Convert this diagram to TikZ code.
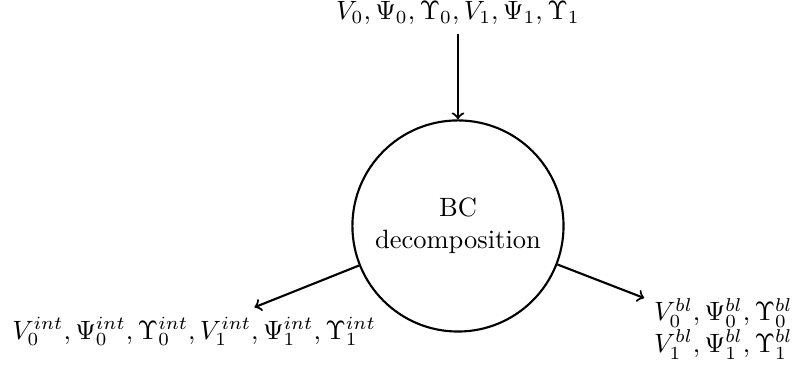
\documentclass[tikz,border=0pt]{standalone}
\usepackage{amssymb}
\usepackage{amsmath}
\usepackage{tikz}
\usetikzlibrary{positioning}

\begin{document}
\begin{tikzpicture}[thick, proc/.style={draw, circle, minimum size=2.8cm, align=center}]
        \useasboundingbox (-6.074,-1.897) rectangle (4.430,2.997);
        \node[proc] (bc) at (0,0) {BC\\decomposition};
        \node[above=1.13cm of bc] (in) {$V_0, \Psi_0, \Upsilon_0, V_1, \Psi_1, \Upsilon_1$};
        \node[anchor=base] (int) at (-3.50,-1.50) {$V_0^{int}, \Psi_0^{int}, \Upsilon_0^{int}, V_1^{int}, \Psi_1^{int}, \Upsilon_1^{int}$};
        \node[anchor=south west, align=left] (bl) at (2.47,-1.897) {$V_0^{bl}, \Psi_0^{bl}, \Upsilon_0^{bl}$\\$V_1^{bl}, \Psi_1^{bl}, \Upsilon_1^{bl}$};
        \draw[->] (in) -- (bc);
        \draw[->] (bc) -- (int);
        \draw[->] (bc) -- (bl);
    \end{tikzpicture}
\end{document}
